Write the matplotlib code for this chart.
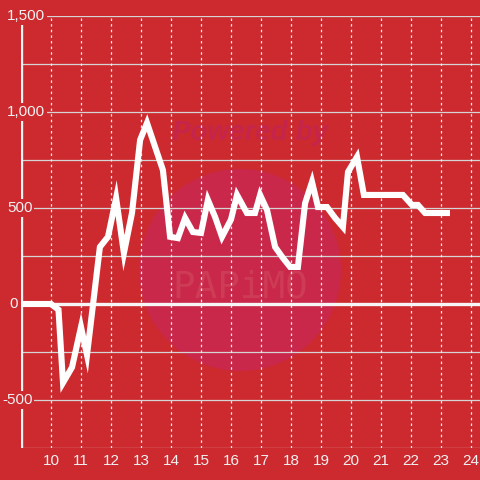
import numpy as np
import matplotlib.pyplot as plt
import matplotlib.transforms as mtransforms
from matplotlib.patches import Circle

# hour of day -> value
hours = [9.0, 10.0, 10.25, 10.4, 10.7, 11.0, 11.2, 11.63, 11.9, 12.17, 12.43, 12.7,
         12.97, 13.2, 13.47, 13.73, 13.97, 14.23, 14.47, 14.73, 15.0, 15.23, 15.47,
         15.7, 16.0, 16.2, 16.53, 16.8, 16.97, 17.2, 17.47, 17.73, 17.97, 18.23,
         18.47, 18.7, 18.9, 19.2, 19.47, 19.73, 19.9, 20.2, 20.43, 21.73, 22.03,
         22.23, 22.47, 23.3]
values = [0, 0, -30, -410, -330, -120, -265, 297, 350, 552, 265, 474,
          854, 943, 818, 698, 350, 343, 448, 375, 370, 542, 453,
          350, 440, 568, 474, 474, 568, 490, 297, 240, 193, 193,
          525, 636, 505, 505, 448, 401, 688, 766, 568, 568, 516,
          516, 474, 474]

yticks = [-500, 0, 500, 1000, 1500]
ylabels = ["-500", "0", "500", "1,000", "1,500"]
xticks = list(range(10, 25))

bg = "#cc2a2f"
W = 480

fig = plt.figure(figsize=(4.8, 4.8), dpi=100, facecolor=bg)
ax = fig.add_axes([21 / W, 1 - 448 / W, 1 - 21 / W, (448 - 16) / W])
ax.set_facecolor(bg)
ax.set_xlim(9, 9 + 459 / 30)
ax.set_ylim(-750, 1500)
for s in ax.spines.values():
    s.set_visible(False)
ax.set_xticks([])
ax.set_yticks([])

# watermark
ax.add_patch(Circle((240 / W, 1 - 270 / W), 101 / W, transform=fig.transFigure,
                    facecolor="#c9284a", edgecolor="none", zorder=0))
ax.text(250 / W, 1 - 133 / W, "Powered by", ha="center", va="center",
        fontsize=20, fontweight="bold", fontstyle="italic", color="#c5254a",
        family="Liberation Sans", transform=fig.transFigure, zorder=0.5)
ax.text(240 / W, 1 - 288 / W, "PAPiMO", ha="center", va="center",
        fontsize=27, color="#d0485e", family="DejaVu Sans Mono",
        transform=fig.transFigure, zorder=0.5, alpha=0.6)

# grid
for yv in np.arange(-750, 1501, 250):
    if yv == 0:
        continue
    ax.axhline(yv, color="#d4d4d4", lw=0.9, zorder=1)
for xv in xticks:
    ax.axvline(xv, color="#f0f0f0", lw=0.9, ls=(0, (2, 2.5)), zorder=1)
ax.axhline(0, color="#f6f6f6", lw=2.4, zorder=1.5)
ax.axvline(9, color="#f4f4f4", lw=2.4, zorder=1.5)

ax.plot(hours, values, color="white", lw=4.4, solid_joinstyle="miter",
        solid_capstyle="butt", zorder=3)

# tick labels (red box hides spine and gridline behind them)
ytrans = mtransforms.blended_transform_factory(fig.transFigure, ax.transData)
label_x = [2, 9, 7, 7, 7]
for yv, lab, lx in zip(yticks, ylabels, label_x):
    ax.text(lx / W, yv, lab, transform=ytrans, ha="left", va="center",
            fontsize=11, color="#f2f2f2", family="Liberation Sans", zorder=5,
            bbox=dict(facecolor=bg, edgecolor="none", pad=1.2))
for xv in xticks:
    ax.text(xv, -780, str(xv), ha="center", va="top", fontsize=11,
            color="#f2f2f2", family="Liberation Sans", clip_on=False)

fig.savefig("out.png", dpi=100, facecolor=bg)
